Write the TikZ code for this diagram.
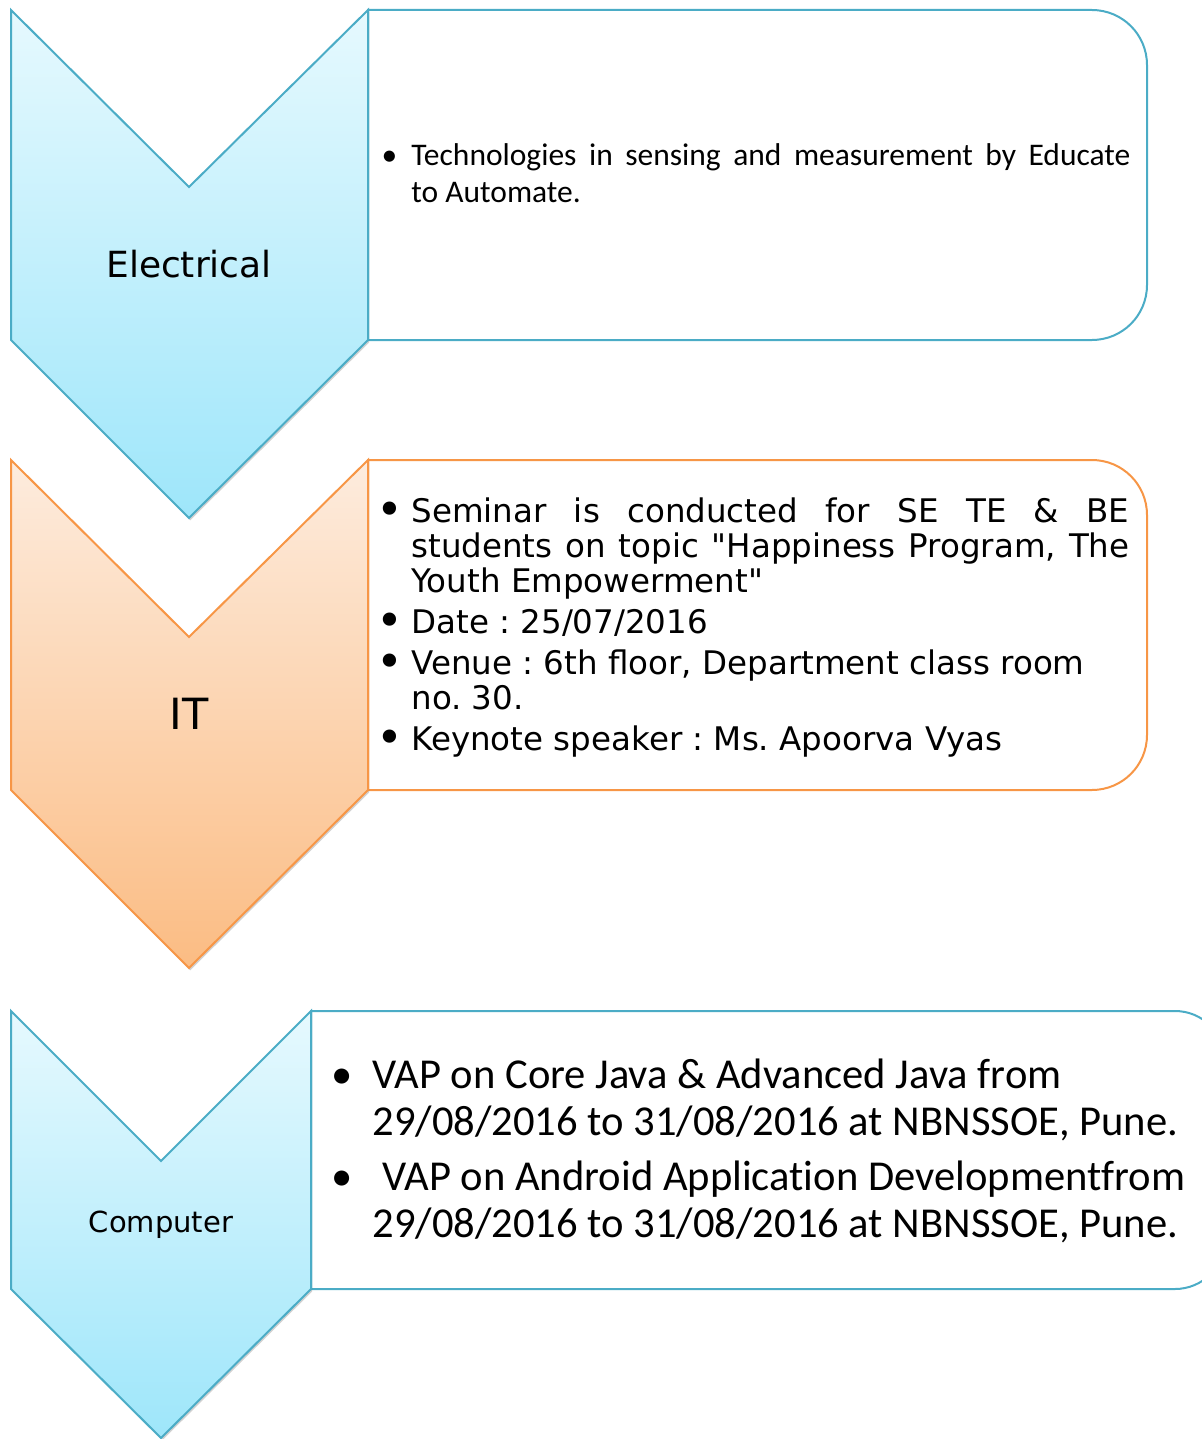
\documentclass[tikz,border=0pt]{standalone}
\usepackage{fontspec}
\setmainfont{DejaVu Sans}[Ligatures=TeXOff]
\newfontfamily\calibri[Ligatures=NoCommon]{Carlito}
\usetikzlibrary{shadows}

\definecolor{blueline}{RGB}{75,172,198}
\definecolor{bluetop}{RGB}{230,249,254}
\definecolor{bluebot}{RGB}{158,230,250}
\definecolor{orangeline}{RGB}{247,150,70}
\definecolor{orangetop}{RGB}{253,236,222}
\definecolor{orangebot}{RGB}{251,188,131}

\newcommand\bul[1]{\noindent\llap{\textbullet\hspace{#1}}}
\newcommand\bigbul{\noindent\llap{\raisebox{-0.22ex}{\scalebox{1.4}{\textbullet}}\hspace{4pt}}}
\frenchspacing

\tikzset{
    chev/.style={line width=1pt, line join=miter,
        drop shadow={shadow xshift=0.6pt, shadow yshift=-1.2pt, opacity=0.18, fill=black}},
    bluechev/.style={chev, draw=blueline, top color=bluetop, bottom color=bluebot},
    orangechev/.style={chev, draw=orangeline, top color=orangetop, bottom color=orangebot},
    bluebox/.style={line width=1pt, draw=blueline, fill=white},
    orangebox/.style={line width=1pt, draw=orangeline, fill=white},
    chevtext/.style={inner sep=0pt},
    bodytext/.style={inner sep=0pt, anchor=base west},
}

\begin{document}
\begin{tikzpicture}[x=0.5pt, y=-0.5pt]
    \useasboundingbox (0,0) rectangle (1201,1439);

    % Electrical
    \draw[bluebox] (368,10) [rounded corners=27.5pt] -- (1147,10) -- (1147,340) [sharp corners] -- (368,340) -- cycle;
    \draw[bluechev] (11,10) -- (189,187) -- (368,10) -- (368,340) -- (189,518) -- (11,340) -- cycle;
    \node[chevtext, font=\fontsize{18}{22}\selectfont] (elec) at (189,264) {Electrical};
    \node[bodytext] (elecText) at (411,166) {\parbox[t]{359.5pt}{\calibri\fontsize{15.75}{18.5}\selectfont
        \bul{7pt}Technologies in sensing and measurement by Educate\linebreak to Automate.}};

    % IT
    \draw[orangebox] (368,460) [rounded corners=27.5pt] -- (1147,460) -- (1147,790) [sharp corners] -- (368,790) -- cycle;
    \draw[orangechev] (11,460) -- (189,637) -- (368,460) -- (368,790) -- (189,968) -- (11,790) -- cycle;
    \node[chevtext, font=\fontsize{21.5}{26}\selectfont] (it) at (189,714) {IT};
    \node[bodytext] (itText) at (411,522) {\parbox[t]{359pt}{\fontsize{16.25}{17.5}\selectfont
        \setlength\parskip{3pt}%
        \bigbul Seminar is conducted for SE TE \& BE\linebreak students on topic "Happiness Program, The\linebreak Youth Empowerment"\par
        \bigbul Date : 25/07/2016\par
        \bigbul Venue : 6th floor, Department class room\\ no. 30.\par
        \bigbul Keynote speaker : Ms. Apoorva Vyas\par}};

    % Computer
    \draw[bluebox] (311,1011) [rounded corners=25pt] -- (1225,1011) -- (1225,1289) [sharp corners] -- (311,1289) -- cycle;
    \draw[bluechev] (11,1011) -- (161,1161) -- (311,1011) -- (311,1289) -- (161,1438) -- (11,1289) -- cycle;
    \node[chevtext, font=\fontsize{14.5}{18}\selectfont] (comp) at (161,1225) {Computer};
    \node[bodytext] (compText) at (372,1088) {\parbox[t]{420pt}{\calibri\fontsize{21.3}{23.5}\selectfont
        \setlength\parskip{4pt}%
        \bul{10pt}VAP on Core Java \& Advanced Java from\\ 29/08/2016 to 31/08/2016 at NBNSSOE, Pune.\par
        \bul{10pt}\hspace{5pt}VAP on Android Application Developmentfrom\\ 29/08/2016 to 31/08/2016 at NBNSSOE, Pune.\par}};
\end{tikzpicture}
\end{document}
